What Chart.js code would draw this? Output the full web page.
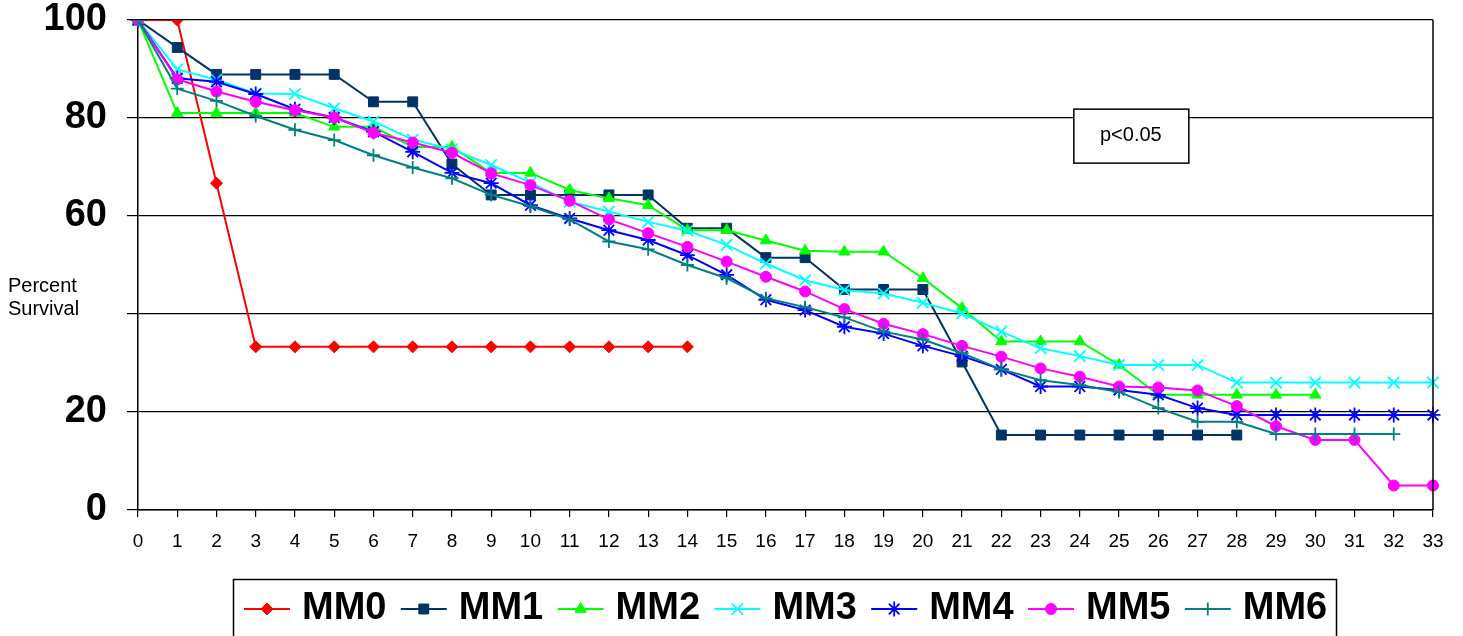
<!DOCTYPE html>
<html>
<head>
<meta charset="utf-8">
<script src="https://cdn.jsdelivr.net/npm/chart.js"></script>
<style>
  html, body { margin: 0; padding: 0; background: #fff; }
  #chart { display: block; }
</style>
</head>
<body>
<canvas id="chart" width="1463" height="636"></canvas>
<script>
// weeks on the x axis
var weeks = ["0","1","2","3","4","5","6","7","8","9","10","11","12","13","14","15","16",
  "17","18","19","20","21","22","23","24","25","26","27","28","29","30","31","32","33"]

var seriesNames = ["MM0", "MM1", "MM2", "MM3", "MM4", "MM5", "MM6"]

// percent survival per week
var mm0 = [100, 100, 66.7, 33.3, 33.3, 33.3, 33.3, 33.3, 33.3, 33.3, 33.3, 33.3, 33.3, 33.3, 33.3]
var mm1 = [100, 94.4, 88.9, 88.9, 88.9, 88.9, 83.3, 83.3, 70.6, 64.3, 64.3, 64.3, 64.3, 64.3, 57.5,
  57.5, 51.5, 51.5, 45, 45, 45, 30.2, 15.3, 15.3, 15.3, 15.3, 15.3, 15.3, 15.3]
var mm2 = [100, 81, 81, 81, 81, 78.2, 78.2, 74.1, 74.1, 68.8, 68.8, 65.3, 63.6, 62.2, 57.1,
  57.1, 55, 52.9, 52.7, 52.7, 47.3, 41.2, 34.4, 34.4, 34.4, 29.6, 23.5, 23.5, 23.5, 23.5, 23.5]
var mm3 = [100, 89.9, 87.8, 85, 84.9, 82, 79.3, 75.6, 73.6, 70.4, 66.8, 62.9, 60.9, 58.8, 57,
  54.1, 50.3, 46.9, 44.9, 44.2, 42.3, 40.1, 36.4, 33, 31.4, 29.6, 29.6, 29.6, 26, 26, 26, 26, 26, 26]
var mm4 = [100, 88.1, 87.4, 84.9, 81.8, 80.1, 77.2, 73.1, 68.8, 66.7, 62.2, 59.5, 57.1, 55.1, 52,
  48, 42.9, 40.8, 37.4, 36, 33.5, 31.4, 28.7, 25.2, 25.2, 24.5, 23.5, 20.8, 19.4, 19.4, 19.4, 19.4, 19.4, 19.4]
var mm5 = [100, 87.9, 85.4, 83.3, 81.6, 80.1, 77, 75, 72.9, 68.7, 66.3, 63.1, 59.3, 56.5, 53.7,
  50.7, 47.6, 44.6, 41, 38, 35.9, 33.5, 31.3, 28.9, 27.2, 25.2, 25, 24.4, 21.2, 17.1, 14.3, 14.3, 5, 5]
var mm6 = [100, 86, 83.5, 80.4, 77.6, 75.5, 72.4, 69.9, 67.7, 64.3, 62, 59.3, 54.8, 53.2, 50,
  47.3, 43.2, 41.4, 39.3, 36.4, 34.8, 32, 28.7, 26.5, 25.5, 24.1, 20.8, 18, 18, 15.5, 15.5, 15.5, 15.5]

var yTicks = [0, 20, 40, 60, 80, 100]

var allSeries = [mm0, mm1, mm2, mm3, mm4, mm5, mm6]
var colors = ["#FF0000", "#003366", "#00FF00", "#00FFFF", "#0000FF", "#FF00FF", "#008080"]
var markers = ["rectRot", "rect", "triangle", "crossRot", "star", "circle", "cross"]
var radii = [6, 7, 6.5, 8, 7.5, 5.5, 6.5]

var FONT = "'Liberation Sans', Arial, sans-serif"

var datasets = seriesNames.map(function(name, i) {
  return {
    label: name,
    data: allSeries[i],
    borderColor: colors[i],
    backgroundColor: colors[i],
    pointBorderColor: colors[i],
    pointBackgroundColor: colors[i],
    pointStyle: markers[i],
    pointRadius: radii[i],
    pointBorderWidth: (i >= 3 && i != 5) ? 1.8 : 1,
    borderWidth: 2,
    tension: 0,
    fill: false,
    order: seriesNames.length - i   // later series on top, like the original
  }
})

/*
 extra bits: right frame line, side label, p-value box, legend
*/
var decor = {
  id: 'decor',
  afterDraw: function(chart) {
    var ctx = chart.ctx
    var area = chart.chartArea
    var xs = chart.scales.x, ys = chart.scales.y
    ctx.save()

    // right frame
    ctx.strokeStyle = '#000'
    ctx.lineWidth = 1.5
    ctx.beginPath()
    ctx.moveTo(area.right, area.top)
    ctx.lineTo(area.right, area.bottom)
    ctx.stroke()

    // side label
    ctx.fillStyle = '#000'
    ctx.font = '20px ' + FONT
    ctx.textAlign = 'left'
    ctx.textBaseline = 'middle'
    ctx.fillText('Percent', 8, ys.getPixelForValue(40) - 28)
    ctx.fillText('Survival', 8, ys.getPixelForValue(40) - 5)

    // p value box
    var cx = xs.getPixelForValue(25.3), cy = ys.getPixelForValue(76.3)
    ctx.fillStyle = '#fff'
    ctx.fillRect(cx - 57, cy - 27, 115, 54)
    ctx.lineWidth = 1.5
    ctx.strokeRect(cx - 57, cy - 27, 115, 54)
    ctx.fillStyle = '#000'
    ctx.textAlign = 'center'
    ctx.fillText('p<0.05', cx, cy - 1)

    // legend
    ctx.lineWidth = 1.5
    ctx.strokeRect(233.5, 579.5, 1103, 80)
    var ly = 609
    chart.data.datasets.forEach(function(ds, i) {
      var x0 = 244 + i * 156.8
      ctx.strokeStyle = ds.borderColor
      ctx.lineWidth = 2
      ctx.beginPath()
      ctx.moveTo(x0, ly)
      ctx.lineTo(x0 + 46, ly)
      ctx.stroke()
      ctx.fillStyle = ds.borderColor
      ctx.lineWidth = ds.pointBorderWidth
      if (Chart.helpers && Chart.helpers.drawPoint) {
        Chart.helpers.drawPoint(ctx, {
          pointStyle: ds.pointStyle, radius: ds.pointRadius,
          borderWidth: ds.pointBorderWidth, rotation: 0
        }, x0 + 23, ly)
      }
      ctx.fillStyle = '#000'
      ctx.font = 'bold 38px ' + FONT
      ctx.textAlign = 'left'
      ctx.fillText(ds.label, x0 + 58, ly)
    })
    ctx.restore()
  }
}

var ctx = document.getElementById('chart')
var myChart = new Chart(ctx, {
  type: 'line',
  data: { labels: weeks, datasets: datasets },
  plugins: [decor],
  options: {
    responsive: false,
    animation: false,
    devicePixelRatio: 1,
    layout: { padding: { left: 0, right: 30, top: 0, bottom: 0 } },
    plugins: {
      legend: { display: false },
      tooltip: { enabled: false }
    },
    scales: {
      x: {
        type: 'category',
        offset: false,
        grid: { drawOnChartArea: false, drawTicks: true, tickLength: 7, color: '#000', lineWidth: 1.2 },
        border: { color: '#000', width: 1.5 },
        ticks: { color: '#000', font: { family: FONT, size: 19 }, padding: 13, maxRotation: 0, autoSkip: false },
        afterFit: function(s) { s.height = 126 }
      },
      y: {
        min: 0,
        max: 100,
        afterBuildTicks: function(s) { s.ticks = yTicks.map(function(v) { return { value: v } }) },
        grid: { color: '#000', lineWidth: 1.2, tickLength: 11 },
        border: { color: '#000', width: 1.5 },
        ticks: {
          color: '#000',
          padding: 20,
          font: { family: FONT, size: 38, weight: 'bold' },
          callback: function(v) { return v === 40 ? '' : v }
        },
        afterFit: function(s) {
          s.width = 138
          s.paddingTop = 20
          s.paddingBottom = 0
        }
      }
    }
  }
})
</script>
</body>
</html>
